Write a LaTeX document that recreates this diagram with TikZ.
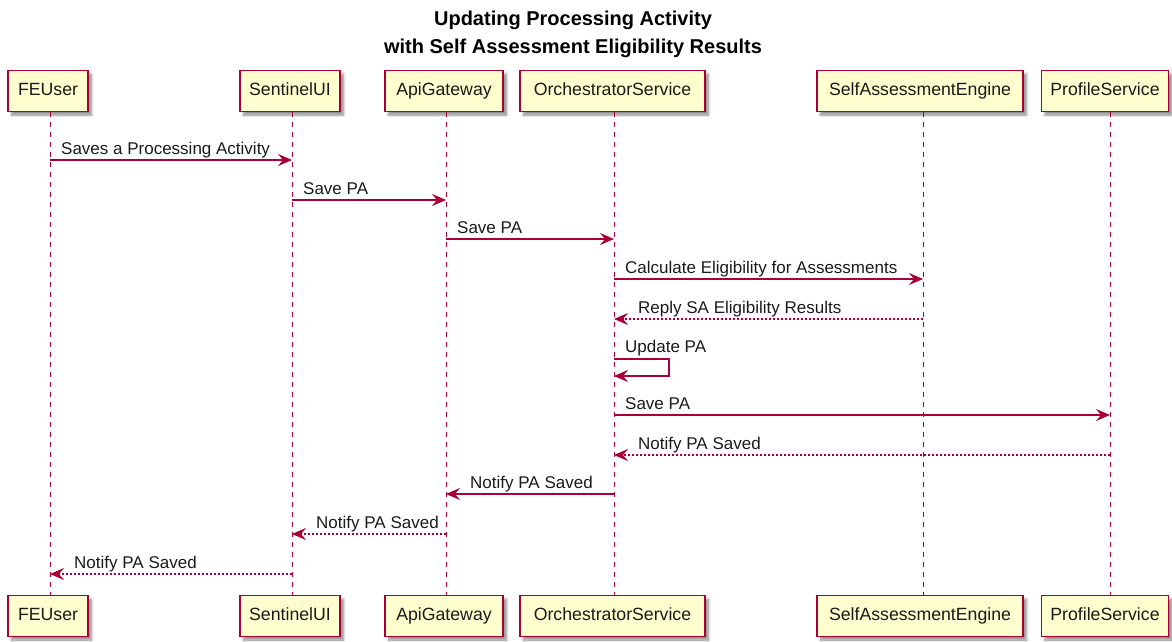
\documentclass[tikz,border=0pt]{standalone}
\usepackage{fontspec}
\setmainfont{Liberation Sans}
\usetikzlibrary{arrows.meta,shadows.blur}
\definecolor{umlred}{HTML}{A80036}
\definecolor{umlfill}{HTML}{FEFECE}
\definecolor{umltext}{HTML}{1A1A1A}
\tikzset{
  part/.style={draw=umlred, line width=1.1pt, fill=umlfill, minimum height=41pt,
    inner xsep=9pt, text=umltext, font=\fontsize{17.7}{20}\selectfont,
    text height=0.92em, text depth=0pt,
    blur shadow={shadow xshift=3.5pt, shadow yshift=-3.5pt, shadow blur radius=2.5pt,
      shadow blur steps=6, shadow opacity=45}},
  life/.style={draw=umlred, line width=0.9pt, dash pattern=on 5pt off 5pt},
  tip/.style={-{Stealth[length=14pt,width=12pt,inset=5pt]}},
  msg/.style={draw=umlred, line width=1.1pt, tip},
  reply/.style={draw=umlred, line width=1.1pt, tip, dash pattern=on 2pt off 2pt},
  lbl/.style={anchor=base west, inner sep=0pt, text=umltext, font=\fontsize{17}{19}\selectfont},
}
\begin{document}
\begin{tikzpicture}[x=1pt,y=-1pt]
\useasboundingbox (0,0) rectangle (1172,641);

% title
\node[font=\bfseries\fontsize{20}{28}\selectfont, align=center, text=black] (title) at (573,34)
  {Updating Processing Activity\\with Self Assessment Eligibility Results};

% participants, top row
\node[part, minimum width=80pt]  (feT) at (48,91)  {FEUser};
\node[part, minimum width=100pt] (snT) at (290,91) {SentinelUI};
\node[part, minimum width=118pt] (apT) at (444,91) {ApiGateway};
\node[part, minimum width=185pt] (orT) at (612.5,91) {OrchestratorService};
\node[part, minimum width=206pt] (saT) at (920,91) {SelfAssessmentEngine};
\node[part, minimum width=126pt] (prT) at (1105,91) {ProfileService};

% participants, bottom row
\node[part, minimum width=80pt]  (feB) at (48,616)  {FEUser};
\node[part, minimum width=100pt] (snB) at (290,616) {SentinelUI};
\node[part, minimum width=118pt] (apB) at (444,616) {ApiGateway};
\node[part, minimum width=185pt] (orB) at (612.5,616) {OrchestratorService};
\node[part, minimum width=206pt] (saB) at (920,616) {SelfAssessmentEngine};
\node[part, minimum width=126pt] (prB) at (1105,616) {ProfileService};

% lifelines
\coordinate (fe) at (50,0);
\coordinate (sn) at (292,0);
\coordinate (ap) at (446,0);
\coordinate (or) at (614,0);
\coordinate (sa) at (923,0);
\coordinate (pr) at (1110,0);
\draw[life] (fe |- feT.south) -- (fe |- feB.north);
\draw[life] (sn |- snT.south) -- (sn |- snB.north);
\draw[life] (ap |- apT.south) -- (ap |- apB.north);
\draw[life] (or |- orT.south) -- (or |- orB.north);
\draw[life] (sa |- saT.south) -- (sa |- saB.north);
\draw[life] (pr |- prT.south) -- (pr |- prB.north);

% messages
\draw[msg] (fe |- 0,160) -- (sn |- 0,160);
\node[lbl] (m1) at (61,154) {Saves a Processing Activity};

\draw[msg] (sn |- 0,200) -- (ap |- 0,200);
\node[lbl] (m2) at (303,194) {Save PA};

\draw[msg] (ap |- 0,239) -- (or |- 0,239);
\node[lbl] (m3) at (457,233) {Save PA};

\draw[msg] (or |- 0,279) -- (sa |- 0,279);
\node[lbl] (m4) at (625,273) {Calculate Eligibility for Assessments};

\draw[reply] (sa |- 0,319) -- (or |- 0,319);
\node[lbl] (m5) at (638,313) {Reply SA Eligibility Results};

\coordinate (selfA) at (669,359);
\coordinate (selfB) at (669,376);
\draw[msg] (or |- 0,359) -- (selfA) -- (selfB) -- (or |- selfB);
\node[lbl] (m6) at (625,352) {Update PA};

\draw[msg] (or |- 0,415) -- (pr |- 0,415);
\node[lbl] (m7) at (625,409) {Save PA};

\draw[reply] (pr |- 0,455) -- (or |- 0,455);
\node[lbl] (m8) at (638,449) {Notify PA Saved};

\draw[msg] (or |- 0,494) -- (ap |- 0,494);
\node[lbl] (m9) at (470,488) {Notify PA Saved};

\draw[reply] (ap |- 0,534) -- (sn |- 0,534);
\node[lbl] (m10) at (316,528) {Notify PA Saved};

\draw[reply] (sn |- 0,574) -- (fe |- 0,574);
\node[lbl] (m11) at (74,568) {Notify PA Saved};
\end{tikzpicture}
\end{document}
